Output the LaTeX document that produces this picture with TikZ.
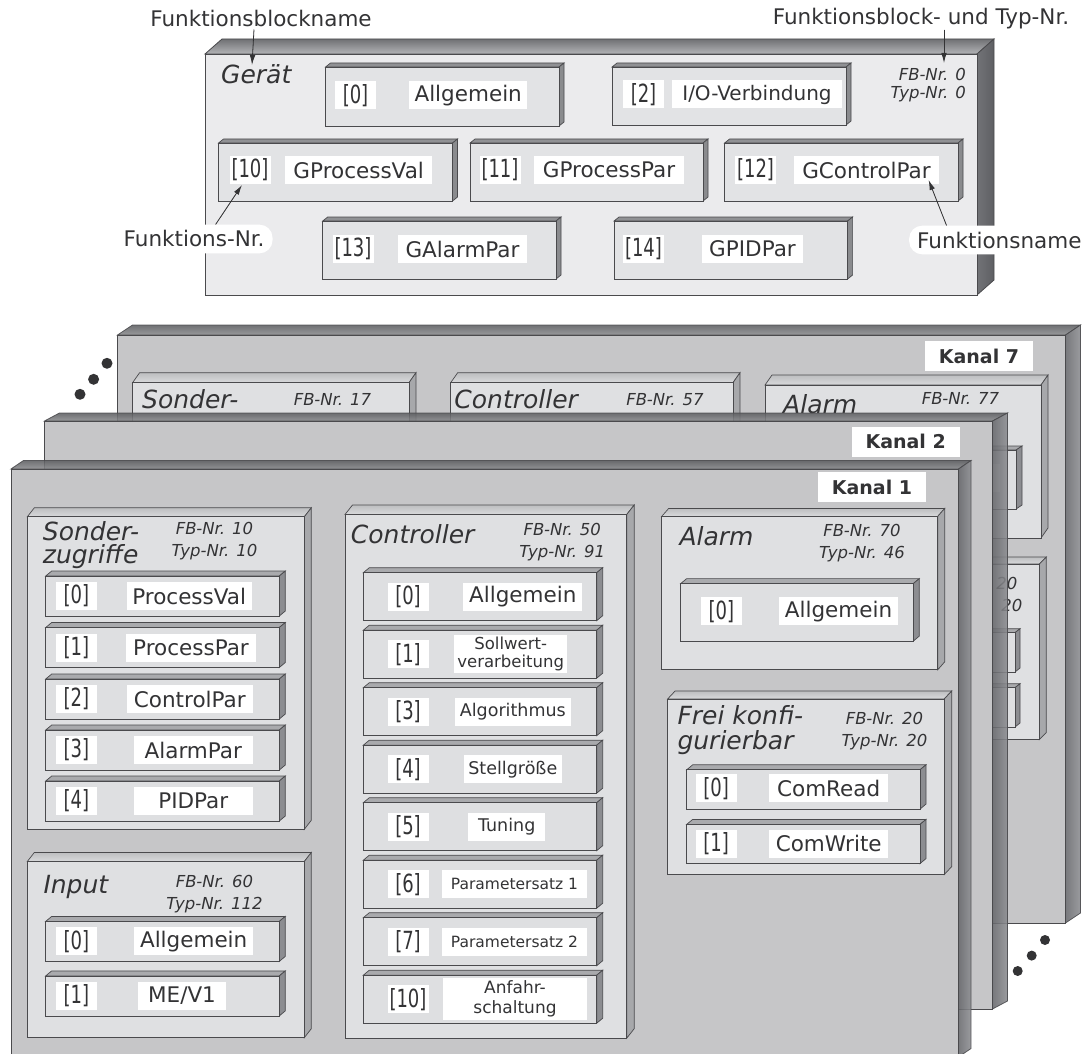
\documentclass[tikz,border=0pt]{standalone}
\usepackage{fontspec}
\setmainfont{DejaVu Sans}
\newfontfamily\brk[FakeStretch=0.72]{DejaVu Sans}
\usetikzlibrary{arrows.meta}
\definecolor{txt}{HTML}{333335}
\definecolor{edge}{HTML}{4A4A4D}
\definecolor{gtA}{HTML}{707174}
\definecolor{gtB}{HTML}{B3B4B7}
\definecolor{gsA}{HTML}{727377}
\definecolor{gsB}{HTML}{5E5F63}
\definecolor{gfront}{HTML}{EBEBED}
\definecolor{gbt}{HTML}{909194}
\definecolor{gbs}{HTML}{8A8B8E}
\definecolor{gbf}{HTML}{E2E3E5}
\definecolor{ktA}{HTML}{5C5D60}
\definecolor{ktB}{HTML}{8A8B8E}
\definecolor{ksA}{HTML}{66676B}
\definecolor{ksB}{HTML}{8C8D91}
\definecolor{kfront}{HTML}{C6C6C8}
\definecolor{grtA}{HTML}{BDBEC0}
\definecolor{grtB}{HTML}{D9DADC}
\definecolor{grs}{HTML}{A7A8AB}
\definecolor{grf}{HTML}{DFE0E2}
\definecolor{rwt}{HTML}{A9AAAD}
\definecolor{rws}{HTML}{8C8D91}
\definecolor{rwf}{HTML}{DEDFE1}
\newcommand{\fsz}[1]{\fontsize{#1}{#1}\selectfont}
% slab: x1,y1,x2,y2 (front face, pixel coords), dx,dy (depth), style prefix
\newcommand{\slab}[7]{%
  \path[#7top] (#1,#2) -- ({#1+#5},{#2+#6}) -- ({#3+#5},{#2+#6}) -- (#3,#2) -- cycle;
  \path[#7side] (#3,#2) -- ({#3+#5},{#2+#6}) -- ({#3+#5},{#4+#6}) -- (#3,#4) -- cycle;
  \path[#7front] (#1,#2) rectangle (#3,#4);}
\newcommand{\rowbox}[4]{\slab{#1}{#2}{#3}{#2+#4}{6}{-5}{rw}}
\begin{document}
\begin{tikzpicture}[x=1pt,y=-1pt,
  every node/.style={text=txt},
  gptop/.style={top color=gtA,bottom color=gtB,draw=edge,line width=0.8pt},
  gpside/.style={left color=gsA,right color=gsB,draw=edge,line width=0.8pt},
  gpfront/.style={fill=gfront,draw=edge,line width=0.8pt},
  gbtop/.style={fill=gbt,draw=edge,line width=0.7pt},
  gbside/.style={fill=gbs,draw=edge,line width=0.7pt},
  gbfront/.style={fill=gbf,draw=edge,line width=0.7pt},
  kptop/.style={top color=ktA,bottom color=ktB,draw=edge,line width=0.8pt,opacity=0.88},
  kpside/.style={left color=ksA,right color=ksB,draw=edge,line width=0.8pt,opacity=0.88},
  kpfront/.style={fill=kfront,draw=edge,line width=0.8pt},
  grtop/.style={top color=grtA,bottom color=grtB,draw=edge,line width=0.7pt},
  grside/.style={fill=grs,draw=edge,line width=0.7pt},
  grfront/.style={fill=grf,draw=edge,line width=0.7pt},
  rwtop/.style={fill=rwt,draw=edge,line width=0.7pt},
  rwside/.style={fill=rws,draw=edge,line width=0.7pt},
  rwfront/.style={fill=rwf,draw=edge,line width=0.7pt},
  hd/.style={font={\itshape\fsz{25}},inner sep=0pt,anchor=base west},
  hd2/.style={inner sep=0pt,anchor=north west,align=left},
  fb/.style={font={\itshape\fsz{16.5}},inner sep=0pt,anchor=base},
  lb/.style={fill=white,inner sep=0pt,minimum height=28pt,font={\fsz{21.5}}},
  kb/.style={fill=white,inner sep=0pt,minimum height=28pt,minimum width=41pt,font={\brk\fsz{25}}},
  an/.style={font={\fsz{21.5}},inner sep=0pt},
  kl/.style={fill=white,inner sep=0pt,minimum width=108pt,minimum height=30pt,font={\bfseries\fsz{19}}},
  arr/.style={-{Latex[length=10pt,width=5.5pt]},line width=0.8pt,draw=txt,fill=txt}
]
\useasboundingbox (0,0) rectangle (1085,1054);
\clip (0,0) rectangle (1085,1054);

% ================= Kanal 7 =================
\slab{117.5}{335}{1065.5}{923}{15}{-10}{kp}
\slab{132.6}{382.7}{409}{700}{7}{-10}{gr}
\node[hd] (s7h) at (142,408) {Sonder-};
\node[fb] (s7fb) at (332.5,405.7) {FB-Nr. 17};
\slab{450.7}{382.7}{733}{900}{7}{-10}{gr}
\node[hd] (c7h) at (454.2,408.3) {Controller};
\node[fb] (c7fb) at (665,405.7) {FB-Nr. 57};
\slab{765}{385}{1041}{538}{7}{-10}{gr}
\node[hd] (a7h) at (783,413) {Alarm};
\node[fb] (a7fb) at (960.5,404) {FB-Nr. 77};
\slab{783.4}{450}{1016}{509}{6}{-4}{rw}
\fill[white] (882,464) rectangle (1000,492);
\slab{762.7}{564}{1039.3}{739.6}{7}{-7}{gr}
\node[fb] (f7fb) at (978.8,589.5) {FB-Nr. 20};
\node[fb] (f7ty) at (979.5,611.6) {Typ-Nr. 20};
\slab{781.7}{632.7}{1015}{672}{5}{-4}{rw}
\slab{781.7}{687.7}{1015}{727}{5}{-4}{rw}
\node[kl] (k7) at (979,356) {Kanal 7};

% ================= Kanal 2 =================
\slab{44.5}{421}{992.5}{1009}{15}{-8}{kp}
\node[kl] (k2) at (905.7,441.5) {Kanal 2};

% ================= Kanal 1 =================
\slab{11}{469}{958.5}{1057}{12.5}{-8.5}{kp}
\node[kl] (k1) at (872,487) {Kanal 1};

% --- Sonderzugriffe
\slab{27.3}{516.8}{304.3}{829.3}{7}{-9}{gr}
\node[hd2,font={\itshape\fontsize{25}{23}\selectfont}] (s1h) at (42.7,521) {Sonder-\\zugriffe};
\node[fb] (s1fb) at (214.5,534.6) {FB-Nr. 10};
\node[fb] (s1ty) at (214.5,556.6) {Typ-Nr. 10};
\rowbox{45.7}{576}{279.3}{40}
\node[kb] (s1k0) at (76.3,596) {[0]};
\node[lb,minimum width=125pt] (s1n0) at (189.2,596) {ProcessVal};
\rowbox{45.7}{627.5}{279.3}{40}
\node[kb] (s1k1) at (76.3,647.5) {[1]};
\node[lb,minimum width=130pt] (s1n1) at (191,647.5) {ProcessPar};
\rowbox{45.7}{679}{279.3}{40}
\node[kb] (s1k2) at (76.3,699) {[2]};
\node[lb,minimum width=125.7pt] (s1n2) at (189.8,699) {ControlPar};
\rowbox{45.7}{730}{279.3}{40}
\node[kb] (s1k3) at (76.3,750) {[3]};
\node[lb,minimum width=118.7pt] (s1n3) at (193.3,750) {AlarmPar};
\rowbox{45.7}{781}{279.3}{40}
\node[kb] (s1k4) at (76.3,801) {[4]};
\node[lb,minimum width=118.7pt] (s1n4) at (193.3,801) {PIDPar};

% --- Input
\slab{27.3}{861.5}{304.3}{1037.7}{7}{-9}{gr}
\node[hd] (i1h) at (43.3,893.7) {Input};
\node[fb] (i1fb) at (214.5,887.3) {FB-Nr. 60};
\node[fb] (i1ty) at (214.5,909.6) {Typ-Nr. 112};
\rowbox{45.7}{921.4}{279.3}{40}
\node[kb] (i1k0) at (76.3,941.4) {[0]};
\node[lb,minimum width=119.3pt] (i1n0) at (193.7,941.4) {Allgemein};
\rowbox{45.7}{975.9}{279.3}{40}
\node[kb] (i1k1) at (76.3,995.9) {[1]};
\node[lb,minimum width=88pt] (i1n1) at (182,995.9) {ME/V1};

% --- Controller
\slab{345}{514.5}{626.7}{1038.2}{7.5}{-9.5}{gr}
\node[hd] (c1h) at (350.7,543.6) {Controller};
\node[fb] (c1fb) at (562.3,535.3) {FB-Nr. 50};
\node[fb] (c1ty) at (562.3,557.1) {Typ-Nr. 91};
\rowbox{363.3}{572.7}{596.7}{48}
\node[kb] (c1k0) at (408,596.7) {[0]};
\node[lb,minimum width=119pt] (c1n0) at (522.8,596.7) {Allgemein};
\rowbox{363.3}{630.2}{596.7}{48}
\node[kb] (c1k1) at (408,654.2) {[1]};
\node[lb,minimum width=113.3pt,minimum height=38pt,align=center,font={\fontsize{16.5}{18}\selectfont}] (c1n1) at (510.7,654.2) {Sollwert-\\verarbeitung};
\rowbox{363.3}{687.7}{596.7}{48}
\node[kb] (c1k2) at (408,711.7) {[3]};
\node[lb,minimum width=115.7pt,font={\fsz{17.5}}] (c1n2) at (512.8,711.7) {Algorithmus};
\rowbox{363.3}{745.2}{596.7}{48}
\node[kb] (c1k3) at (408,769.2) {[4]};
\node[lb,minimum width=97.7pt,font={\fsz{17.5}}] (c1n3) at (512.8,769.2) {Stellgröße};
\rowbox{363.3}{802.7}{596.7}{48}
\node[kb] (c1k4) at (408,826.7) {[5]};
\node[lb,minimum width=76.7pt,font={\fsz{17.5}}] (c1n4) at (506.7,826.7) {Tuning};
\rowbox{363.3}{860.2}{596.7}{48}
\node[kb] (c1k5) at (408,884.2) {[6]};
\node[lb,minimum width=144.4pt,font={\fsz{15.5}}] (c1n5) at (514.5,884.2) {Parametersatz 1};
\rowbox{363.3}{917.7}{596.7}{48}
\node[kb] (c1k6) at (408,941.7) {[7]};
\node[lb,minimum width=144.4pt,font={\fsz{15.5}}] (c1n6) at (514.5,941.7) {Parametersatz 2};
\rowbox{363.3}{975.2}{596.7}{48}
\node[kb] (c1k7) at (408,999.2) {[10]};
\node[lb,minimum width=143.4pt,minimum height=42pt,align=center,font={\fontsize{17}{20}\selectfont}] (c1n7) at (515,999.2) {Anfahr-\\schaltung};

% --- Alarm
\slab{661.7}{516.4}{937.7}{669.8}{7}{-8}{gr}
\node[hd] (a1h) at (679.3,545.5) {Alarm};
\node[fb] (a1fb) at (862,536.4) {FB-Nr. 70};
\node[fb] (a1ty) at (862,558.2) {Typ-Nr. 46};
\slab{680.7}{583.6}{913.3}{641.1}{6}{-5}{rw}
\node[kb] (a1k0) at (721.3,611.3) {[0]};
\node[lb,minimum width=118.4pt] (a1n0) at (838.5,611.3) {Allgemein};

% --- Frei konfigurierbar
\slab{667.7}{698.9}{944.3}{874.5}{7.5}{-8}{gr}
\node[hd2,font={\itshape\fontsize{25}{24.6}\selectfont}] (f1h) at (677.3,705.4) {Frei konfi-\\gurierbar};
\node[fb] (f1fb) at (884.5,724.4) {FB-Nr. 20};
\node[fb] (f1ty) at (884.5,746.5) {Typ-Nr. 20};
\slab{686.7}{769.8}{920}{809.1}{6}{-5}{rw}
\node[kb] (f1k0) at (716.2,788.4) {[0]};
\node[lb,minimum width=119.3pt] (f1n0) at (828.7,788.4) {ComRead};
\slab{686.7}{824.4}{920}{863.6}{6}{-5}{rw}
\node[kb] (f1k1) at (716.2,843.5) {[1]};
\node[lb,minimum width=119.3pt] (f1n1) at (828.7,843.5) {ComWrite};

% ================= Gerät =================
\slab{205}{54}{977}{295}{17}{-15}{gp}
\node[hd] (gname) at (221,84) {Gerät};
\node[fb,anchor=base east] (gfb) at (966,81) {FB-Nr. 0};
\node[fb,anchor=base east] (gty) at (966,99) {Typ-Nr. 0};
\slab{325.5}{67}{559}{126}{5}{-4}{gb}
\node[kb] (g0k) at (355.5,95.5) {[0]};
\node[lb,minimum width=118.5pt] (g0n) at (468.2,95.5) {Allgemein};
\slab{612}{67}{846}{125}{5}{-4}{gb}
\node[kb] (g2k) at (643.5,94.5) {[2]};
\node[lb,minimum width=170pt,font={\fsz{20}}] (g2n) at (757,94.5) {I/O-Verbindung};
\slab{218.5}{143}{452.5}{201}{5}{-4}{gb}
\node[kb] (g10k) at (250,170) {[10]};
\node[lb,minimum width=147.5pt] (g10n) at (358.7,170) {GProcessVal};
\slab{470}{143}{703}{201}{5}{-4}{gb}
\node[kb] (g11k) at (500,170) {[11]};
\node[lb,minimum width=150pt] (g11n) at (609,170) {GProcessPar};
\slab{724.6}{143}{958}{201}{5}{-4}{gb}
\node[kb] (g12k) at (755.5,170) {[12]};
\node[lb,minimum width=145pt] (g12n) at (866.5,170) {GControlPar};
\slab{322.7}{221}{556}{279}{5}{-4}{gb}
\node[kb] (g13k) at (353,249) {[13]};
\node[lb,minimum width=129pt] (g13n) at (462.5,249) {GAlarmPar};
\slab{614}{221}{847.6}{279}{5}{-4}{gb}
\node[kb] (g14k) at (643.5,249) {[14]};
\node[lb,minimum width=101pt] (g14n) at (752.5,249) {GPIDPar};

% ================= annotations =================
\node[an,anchor=base] (fbn) at (261,27) {Funktionsblockname};
\node[an,anchor=base] (fbt) at (921,25) {Funktionsblock- und Typ-Nr.};
\node[an,anchor=base west,fill=white,rounded corners=13pt,inner xsep=8pt,inner ysep=6pt] (fnr) at (115.5,247) {Funktions-Nr.};
\node[an,anchor=base west,fill=white,rounded corners=13pt,inner xsep=8pt,inner ysep=6pt] (fnm) at (909,248) {Funktionsname};
\coordinate (tipA) at (252,65);
\coordinate (tipB) at (944,63);
\coordinate (tipC) at (242,185);
\coordinate (tipD) at (928.6,180);
\draw[arr] ([xshift=-7pt,yshift=-2pt]fbn.south) -- (tipA);
\draw[arr] (fbt.south -| tipB) -- (tipB);
\draw[arr] ([xshift=21.5pt]fnr.north) -- (tipC);
\draw[arr] ([xshift=-52.8pt]fnm.north) -- (tipD);

% dots
\fill[txt] (80,394.3) circle (5.5) (93.6,379.3) circle (5.5) (107,363.3) circle (5.5);
\fill[txt] (1017.7,971) circle (5) (1031.7,955.6) circle (5) (1045,940) circle (5);
\end{tikzpicture}
\end{document}
